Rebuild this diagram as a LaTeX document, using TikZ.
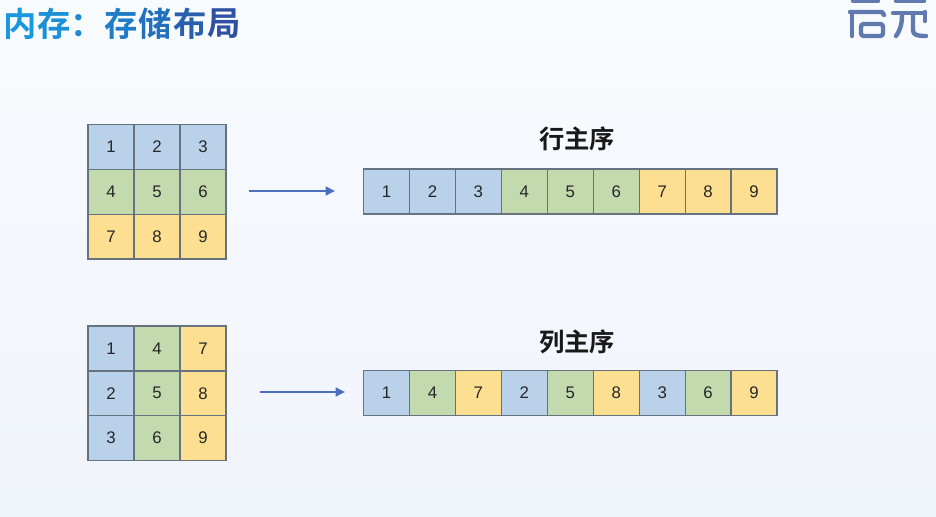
\documentclass[tikz,border=0pt]{standalone}
\usepackage{fontspec}
\setmainfont{Liberation Sans}
\newfontfamily\cjkbold{Noto Sans CJK SC Bold}
\definecolor{bgtop}{HTML}{F8FBFE}
\definecolor{bgbot}{HTML}{F0F4FB}
\definecolor{cellblue}{HTML}{B9D2EA}
\definecolor{cellgreen}{HTML}{C3D9AE}
\definecolor{cellyellow}{HTML}{FDDF92}
\definecolor{cellline}{HTML}{66727F}
\definecolor{arrowblue}{HTML}{4A70BE}
\definecolor{logoblue}{HTML}{6079AE}
\definecolor{tA}{HTML}{1A98DD}
\definecolor{tB}{HTML}{1C90D6}
\definecolor{tC}{HTML}{1E88D0}
\definecolor{tD}{HTML}{1F7DC7}
\definecolor{tE}{HTML}{226FBC}
\definecolor{tF}{HTML}{2960AE}
\definecolor{tG}{HTML}{2F50A2}
\usetikzlibrary{arrows.meta}
\tikzset{
  cellbase/.style={draw=cellline,line width=0.95pt,minimum width=34.45pt,minimum height=33.6pt,inner sep=0pt,font=\fontsize{12.6pt}{14pt}\selectfont,text=black!85},
  cb/.style={cellbase,fill=cellblue},
  cg/.style={cellbase,fill=cellgreen},
  cy/.style={cellbase,fill=cellyellow},
  flow/.style={draw=arrowblue,line width=1.8pt,-{Triangle[length=7pt,width=6.5pt]}},
  heading/.style={font=\cjkbold\fontsize{19pt}{21pt}\selectfont,text=black!90,inner sep=0pt},
  titlechar/.style={font=\cjkbold\fontsize{25pt}{27pt}\selectfont,inner sep=0pt},
  logostroke/.style={draw=logoblue,line width=3.3pt,line cap=round,line join=round}
}
\begin{document}
\begin{tikzpicture}[x=0.75pt,y=-0.75pt]
\shade[top color=bgtop,bottom color=bgbot] (0,0) rectangle (936,517);
\useasboundingbox (0,0) rectangle (936,517);
\begin{scope}
\clip (0,0) rectangle (936,517);
\node[titlechar,text=tA] (t1) at (20,24) {内};
\node[titlechar,text=tB] (t2) at (54,24) {存};
\node[titlechar,text=tC] (t3) at (87.5,26) {：};
\node[titlechar,text=tD] (t4) at (121,24) {存};
\node[titlechar,text=tE] (t5) at (155,24) {储};
\node[titlechar,text=tF] (t6) at (190,24) {布};
\node[titlechar,text=tG] (t7) at (224,24) {局};
% logo
\draw[logostroke] (853,1) -- (878,1);
\draw[logostroke] (850,12) -- (882,12) -- (884,15);
\draw[logostroke] (852,12) -- (852,36);
\draw[logostroke,rounded corners=2pt] (861,24) rectangle (883,36);
\draw[logostroke] (896,1) -- (924,1);
\draw[logostroke] (893,13) -- (925,13);
\draw[logostroke] (902,15) .. controls (902,26) and (899,32) .. (896,36);
\draw[logostroke] (913,15) -- (913,30) .. controls (913,35) and (917,36) .. (926,36);
\draw[logostroke] (925,12) -- (925,21);
\end{scope}
\foreach \r/\c/\n/\s in {0/0/1/cb,0/1/2/cb,0/2/3/cb,1/0/4/cg,1/1/5/cg,1/2/6/cg,2/0/7/cy,2/1/8/cy,2/2/9/cy}{
  \node[\s] (a\n) at ({111+46*\c},{147+44.8*\r}) {\n};
}
\foreach \r/\c/\n/\s in {0/0/1/cb,1/0/2/cb,2/0/3/cb,0/1/4/cg,1/1/5/cg,2/1/6/cg,0/2/7/cy,1/2/8/cy,2/2/9/cy}{
  \node[\s] (b\n) at ({111+46*\c},{348.5+44.8*\r}) {\n};
}
\foreach \i/\n/\s in {0/1/cb,1/2/cb,2/3/cb,3/4/cg,4/5/cg,5/6/cg,6/7/cy,7/8/cy,8/9/cy}{
  \node[\s] (c\n) at ({386.5+45.95*\i},191.5) {\n};
}
\foreach \i/\n/\s in {0/1/cb,1/4/cg,2/7/cy,3/2/cb,4/5/cg,5/8/cy,6/3/cb,7/6/cg,8/9/cy}{
  \node[\s] (d\n) at ({386.5+45.95*\i},393) {\n};
}
\node[heading] (h1) at (577,139) {行主序};
\node[heading] (h2) at (577,342) {列主序};
\coordinate (s1) at (249,191);
\coordinate (e1) at (335,191);
\coordinate (s2) at (260,392);
\coordinate (e2) at (345,392);
\draw[flow] (s1) -- (e1);
\draw[flow] (s2) -- (e2);
\end{tikzpicture}
\end{document}
